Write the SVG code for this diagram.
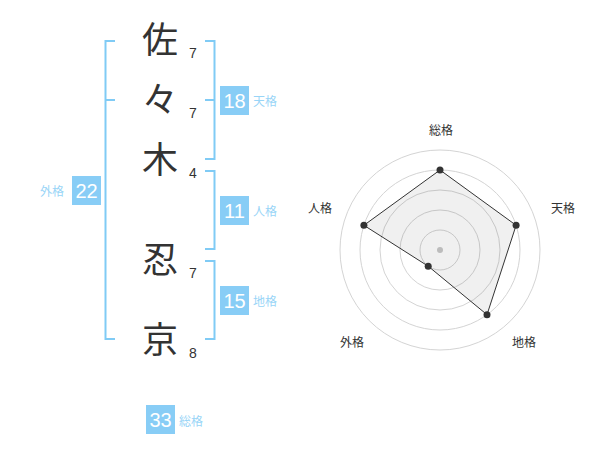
<svg xmlns="http://www.w3.org/2000/svg" width="600" height="470" viewBox="0 0 600 470">
<style>
.kanji{font-family:"Noto Sans CJK JP","Noto Sans CJK SC",sans-serif;font-size:36px;fill:#333;text-anchor:middle}
.num{font-family:"Liberation Sans",Arial,sans-serif;font-size:14px;fill:#333}
.br{fill:none;stroke:#80cbf5;stroke-width:2}
.box{fill:#88cdf6}
.bn{font-family:"Liberation Sans",Arial,sans-serif;font-size:20px;fill:#fff;text-anchor:middle}
.lb{font-family:"Noto Sans CJK JP","Noto Sans CJK SC",sans-serif;font-size:12px;fill:#99d5f7}
.rl{font-family:"Noto Sans CJK JP","Noto Sans CJK SC",sans-serif;font-size:12px;fill:#333;text-anchor:middle}
.ring{fill:none;stroke:#d4d4d4;stroke-width:1}
.dot{fill:#333}
</style>
<g id="chars">
<g id="c1"><text class="kanji" x="160" y="53">佐</text><text class="num" x="189" y="58">7</text></g>
<g id="c2"><text class="kanji" x="160" y="113">々</text><text class="num" x="189" y="118">7</text></g>
<g id="c3"><text class="kanji" x="160" y="173">木</text><text class="num" x="189" y="178">4</text></g>
<g id="c4"><text class="kanji" x="160" y="273">忍</text><text class="num" x="189" y="278">7</text></g>
<g id="c5"><text class="kanji" x="160" y="353">京</text><text class="num" x="189" y="358">8</text></g>
</g>
<g id="connectors">
<path class="br" d="M115,41 H105.5 V339 H115 M105.5,100 H115"/>
<path class="br" d="M205,41 H214.5 V159 H205 M214.5,100 H205"/>
<path class="br" d="M205,171 H214.5 V249 H205"/>
<path class="br" d="M205,261 H214.5 V339 H205"/>
</g>
<g id="tenkaku"><rect class="box" x="220" y="86" width="29" height="29"/><text class="bn" x="234.5" y="107.5">18</text><text class="lb" x="253" y="106">天格</text></g>
<g id="jinkaku"><rect class="box" x="220" y="196" width="29" height="29"/><text class="bn" x="234.5" y="217.5">11</text><text class="lb" x="253" y="216">人格</text></g>
<g id="chikaku"><rect class="box" x="220" y="286" width="29" height="29"/><text class="bn" x="234.5" y="307.5">15</text><text class="lb" x="253" y="306">地格</text></g>
<g id="gaikaku"><rect class="box" x="72" y="176" width="29" height="29"/><text class="bn" x="86.5" y="197.5">22</text><text class="lb" x="40" y="196">外格</text></g>
<g id="soukaku"><rect class="box" x="146" y="405" width="29" height="29"/><text class="bn" x="160.5" y="426.5">33</text><text class="lb" x="179" y="426">総格</text></g>
<g id="radar">
<circle class="ring" cx="440" cy="250" r="20"/>
<circle class="ring" cx="440" cy="250" r="40"/>
<circle class="ring" cx="440" cy="250" r="60"/>
<circle class="ring" cx="440" cy="250" r="80"/>
<circle class="ring" cx="440" cy="250" r="100"/>
<circle cx="440" cy="250" r="3" fill="#c8c8c8"/>
<polygon points="440,170 516.1,225.3 487,314.7 428.2,266.2 363.9,225.3" fill="#000" fill-opacity="0.06" stroke="#333" stroke-width="1"/>
<circle class="dot" cx="440" cy="170" r="3.5"/>
<circle class="dot" cx="516.1" cy="225.3" r="3.5"/>
<circle class="dot" cx="487" cy="314.7" r="3.5"/>
<circle class="dot" cx="428.2" cy="266.2" r="3.5"/>
<circle class="dot" cx="363.9" cy="225.3" r="3.5"/>
<text class="rl" x="441" y="135">総格</text>
<text class="rl" x="563" y="213">天格</text>
<text class="rl" x="320" y="213">人格</text>
<text class="rl" x="352" y="347">外格</text>
<text class="rl" x="524" y="347">地格</text>
</g>
</svg>
